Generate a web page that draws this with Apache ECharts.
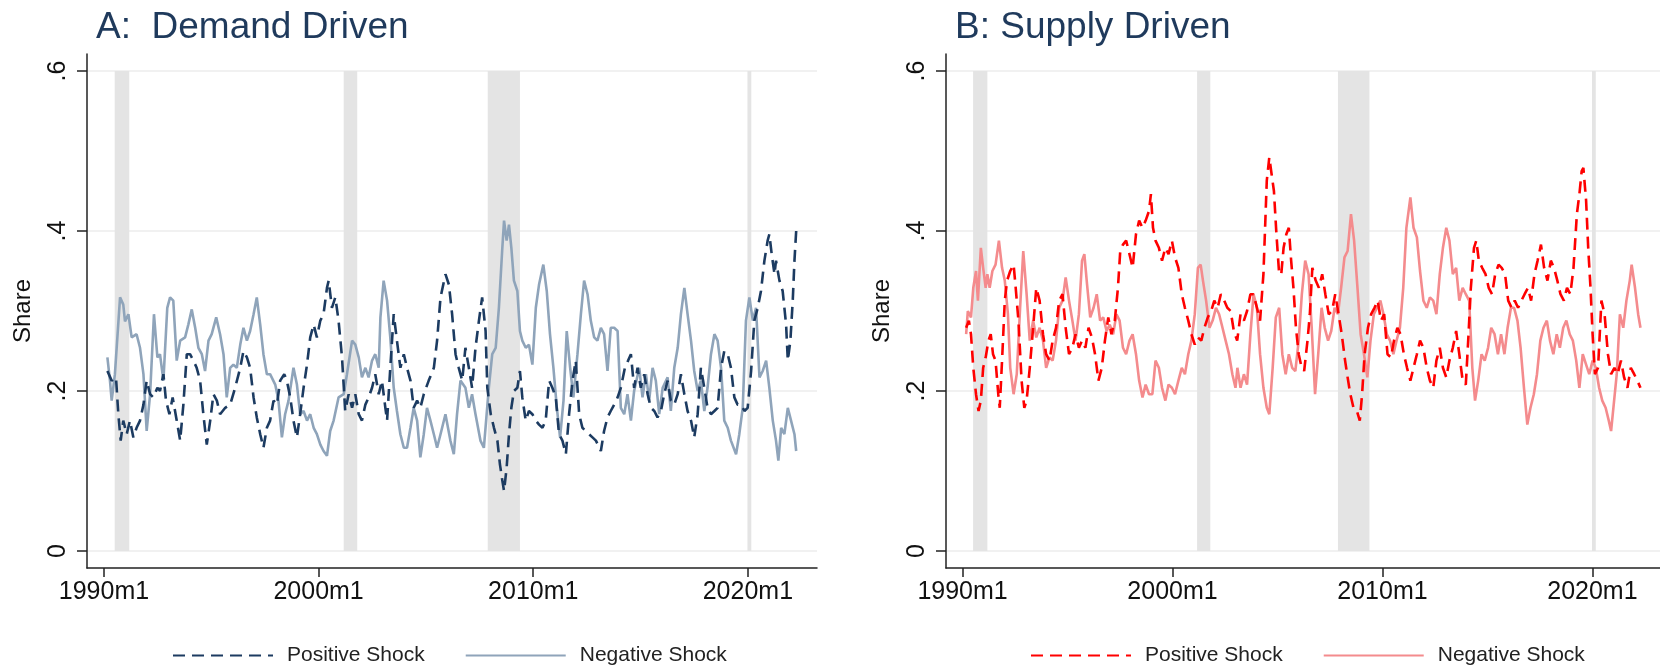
<!DOCTYPE html>
<html>
<head>
<meta charset="utf-8">
<script src="https://cdn.jsdelivr.net/npm/echarts@6/dist/echarts.min.js"></script>
<style>
  html, body { margin: 0; padding: 0; background: #fff; }
  #main { width: 1660px; height: 667px; }
</style>
</head>
<body>
<div id="main"></div>
<script>
// NBER recession spans (decimal years) shaded from 0 to .6
const recessions = [[1990.5, 1991.18], [2001.17, 2001.8], [2007.88, 2009.38], [2019.98, 2020.16]];
const xTicks = [1990, 2000, 2010, 2020];
const yTicks = [0, 0.2, 0.4, 0.6];

// [decimal year, share]
const demandPositive = [
  [1990.16,0.225],[1990.36,0.213],[1990.56,0.217],[1990.67,0.171],[1990.78,0.138],[1990.90,0.163],[1991.06,0.146],[1991.21,0.163],
  [1991.37,0.142],[1991.52,0.154],[1991.68,0.163],[1991.84,0.183],[1991.99,0.213],[1992.15,0.196],[1992.30,0.192],[1992.49,0.204],
  [1992.61,0.200],[1992.77,0.221],[1992.89,0.188],[1993.05,0.171],[1993.20,0.192],[1993.39,0.163],[1993.55,0.138],[1993.70,0.183],
  [1993.86,0.246],[1994.01,0.246],[1994.17,0.238],[1994.32,0.229],[1994.48,0.213],[1994.63,0.171],[1994.79,0.133],[1994.95,0.163],
  [1995.10,0.196],[1995.26,0.188],[1995.41,0.171],[1995.65,0.179],[1995.88,0.183],[1996.11,0.204],[1996.35,0.229],[1996.50,0.250],
  [1996.66,0.242],[1996.81,0.229],[1996.97,0.192],[1997.12,0.167],[1997.28,0.146],[1997.43,0.129],[1997.59,0.154],[1997.74,0.163],
  [1997.90,0.188],[1998.06,0.183],[1998.21,0.213],[1998.40,0.221],[1998.52,0.213],[1998.68,0.192],[1998.83,0.163],[1998.99,0.142],
  [1999.14,0.171],[1999.30,0.204],[1999.46,0.233],[1999.61,0.267],[1999.77,0.283],[1999.92,0.267],[2000.08,0.288],[2000.23,0.296],
  [2000.39,0.329],[2000.47,0.338],[2000.62,0.304],[2000.78,0.317],[2000.93,0.288],[2001.09,0.242],[2001.24,0.175],[2001.40,0.196],
  [2001.56,0.179],[2001.71,0.196],[2001.87,0.171],[2002.02,0.163],[2002.18,0.183],[2002.33,0.192],[2002.49,0.204],[2002.64,0.221],
  [2002.80,0.196],[2002.95,0.213],[2003.11,0.179],[2003.19,0.163],[2003.34,0.229],[2003.50,0.296],[2003.65,0.263],[2003.81,0.229],
  [2003.97,0.246],[2004.12,0.229],[2004.28,0.213],[2004.43,0.179],[2004.59,0.188],[2004.74,0.179],[2004.90,0.196],[2005.13,0.213],
  [2005.37,0.229],[2005.52,0.263],[2005.68,0.317],[2005.91,0.346],[2006.07,0.333],[2006.22,0.296],[2006.38,0.246],[2006.53,0.229],
  [2006.69,0.213],[2006.84,0.254],[2007.00,0.229],[2007.15,0.204],[2007.31,0.254],[2007.47,0.288],[2007.62,0.317],[2007.78,0.275],
  [2007.86,0.204],[2008.02,0.171],[2008.17,0.154],[2008.33,0.138],[2008.45,0.108],[2008.56,0.088],[2008.64,0.075],[2008.76,0.104],
  [2008.87,0.146],[2008.98,0.179],[2009.10,0.200],[2009.26,0.204],[2009.38,0.225],[2009.49,0.192],[2009.65,0.163],[2009.80,0.175],
  [2009.96,0.171],[2010.12,0.163],[2010.27,0.158],[2010.43,0.154],[2010.58,0.163],[2010.74,0.213],[2010.89,0.204],[2011.05,0.192],
  [2011.20,0.146],[2011.36,0.138],[2011.52,0.121],[2011.67,0.171],[2011.83,0.213],[2011.98,0.238],[2012.14,0.171],[2012.29,0.154],
  [2012.45,0.150],[2012.60,0.146],[2012.76,0.142],[2012.92,0.138],[2013.15,0.125],[2013.30,0.150],[2013.46,0.167],[2013.61,0.175],
  [2013.77,0.183],[2013.93,0.192],[2014.08,0.204],[2014.27,0.229],[2014.42,0.238],[2014.55,0.246],[2014.70,0.204],[2014.86,0.229],
  [2015.01,0.204],[2015.17,0.221],[2015.33,0.196],[2015.48,0.179],[2015.64,0.175],[2015.79,0.167],[2015.95,0.175],[2016.10,0.196],
  [2016.26,0.213],[2016.41,0.188],[2016.57,0.183],[2016.73,0.196],[2016.88,0.221],[2017.04,0.196],[2017.19,0.175],[2017.35,0.163],
  [2017.50,0.142],[2017.66,0.171],[2017.81,0.229],[2017.97,0.204],[2018.12,0.179],[2018.28,0.171],[2018.44,0.175],[2018.59,0.179],
  [2018.75,0.229],[2018.90,0.250],[2019.06,0.246],[2019.21,0.229],[2019.37,0.192],[2019.52,0.183],[2019.68,0.183],[2019.84,0.175],
  [2019.99,0.179],[2020.15,0.225],[2020.30,0.288],[2020.46,0.304],[2020.61,0.325],[2020.77,0.363],[2020.92,0.388],[2021.00,0.396],
  [2021.11,0.371],[2021.24,0.346],[2021.31,0.363],[2021.47,0.338],[2021.62,0.325],[2021.78,0.283],[2021.86,0.238],[2021.98,0.263],
  [2022.09,0.313],[2022.17,0.363],[2022.25,0.400]
];

const demandNegative = [
  [1990.16,0.242],[1990.28,0.213],[1990.36,0.188],[1990.51,0.221],[1990.75,0.317],[1990.90,0.308],[1990.98,0.287],[1991.14,0.296],
  [1991.29,0.267],[1991.52,0.271],[1991.68,0.254],[1991.84,0.221],[1991.99,0.150],[1992.15,0.196],[1992.33,0.296],[1992.49,0.242],
  [1992.61,0.246],[1992.77,0.213],[1992.95,0.304],[1993.08,0.317],[1993.23,0.313],[1993.39,0.238],[1993.55,0.263],[1993.78,0.267],
  [1993.93,0.283],[1994.09,0.302],[1994.25,0.279],[1994.40,0.254],[1994.56,0.246],[1994.71,0.225],[1994.87,0.263],[1995.02,0.271],
  [1995.23,0.292],[1995.41,0.271],[1995.57,0.246],[1995.72,0.192],[1995.88,0.229],[1996.03,0.233],[1996.19,0.229],[1996.35,0.258],
  [1996.50,0.279],[1996.66,0.263],[1996.81,0.275],[1996.97,0.296],[1997.12,0.317],[1997.28,0.283],[1997.43,0.246],[1997.59,0.221],
  [1997.74,0.221],[1997.98,0.208],[1998.13,0.188],[1998.29,0.142],[1998.44,0.171],[1998.60,0.188],[1998.83,0.229],[1998.99,0.208],
  [1999.14,0.171],[1999.30,0.175],[1999.46,0.163],[1999.61,0.171],[1999.77,0.154],[1999.92,0.146],[2000.08,0.133],[2000.23,0.125],
  [2000.39,0.119],[2000.54,0.150],[2000.70,0.163],[2000.93,0.192],[2001.17,0.196],[2001.32,0.221],[2001.56,0.263],[2001.71,0.258],
  [2001.87,0.242],[2002.02,0.217],[2002.18,0.229],[2002.33,0.217],[2002.49,0.238],[2002.64,0.246],[2002.80,0.229],[2002.88,0.292],
  [2003.03,0.338],[2003.19,0.313],[2003.34,0.267],[2003.50,0.204],[2003.65,0.175],[2003.81,0.146],[2003.97,0.129],[2004.12,0.129],
  [2004.28,0.154],[2004.43,0.179],[2004.59,0.163],[2004.74,0.117],[2004.90,0.146],[2005.05,0.179],[2005.21,0.163],[2005.37,0.146],
  [2005.52,0.129],[2005.68,0.146],[2005.91,0.171],[2006.14,0.138],[2006.30,0.121],[2006.45,0.171],[2006.61,0.213],[2006.84,0.204],
  [2007.00,0.179],[2007.15,0.196],[2007.31,0.171],[2007.54,0.138],[2007.70,0.129],[2007.93,0.204],[2008.09,0.246],[2008.25,0.254],
  [2008.40,0.304],[2008.56,0.379],[2008.64,0.413],[2008.76,0.388],[2008.87,0.408],[2008.98,0.379],[2009.10,0.338],[2009.26,0.325],
  [2009.38,0.275],[2009.49,0.263],[2009.65,0.254],[2009.80,0.258],[2009.96,0.233],[2010.12,0.304],[2010.27,0.333],[2010.47,0.358],
  [2010.63,0.325],[2010.78,0.271],[2010.94,0.229],[2011.10,0.179],[2011.25,0.142],[2011.41,0.188],[2011.56,0.275],[2011.72,0.229],
  [2011.87,0.192],[2012.06,0.246],[2012.22,0.296],[2012.37,0.338],[2012.53,0.321],[2012.68,0.288],[2012.84,0.267],[2012.99,0.263],
  [2013.15,0.279],[2013.30,0.271],[2013.46,0.225],[2013.61,0.279],[2013.77,0.279],[2013.93,0.275],[2014.08,0.179],[2014.24,0.171],
  [2014.39,0.196],[2014.55,0.163],[2014.70,0.200],[2014.94,0.229],[2015.09,0.192],[2015.25,0.221],[2015.40,0.188],[2015.56,0.229],
  [2015.71,0.213],[2015.87,0.171],[2016.03,0.204],[2016.26,0.217],[2016.41,0.175],[2016.57,0.229],[2016.73,0.254],[2016.88,0.296],
  [2017.04,0.329],[2017.19,0.296],[2017.35,0.263],[2017.50,0.225],[2017.66,0.200],[2017.81,0.213],[2017.97,0.175],[2018.12,0.204],
  [2018.28,0.246],[2018.44,0.271],[2018.59,0.263],[2018.75,0.229],[2018.90,0.163],[2019.06,0.154],[2019.21,0.138],[2019.45,0.121],
  [2019.60,0.146],[2019.76,0.179],[2019.91,0.288],[2020.07,0.317],[2020.23,0.288],[2020.38,0.304],[2020.54,0.217],[2020.69,0.225],
  [2020.85,0.238],[2021.00,0.204],[2021.16,0.163],[2021.31,0.138],[2021.42,0.113],[2021.55,0.154],[2021.70,0.146],[2021.86,0.179],
  [2022.01,0.163],[2022.17,0.146],[2022.25,0.125]
];

const supplyPositive = [
  [1990.17,0.279],[1990.30,0.288],[1990.40,0.271],[1990.51,0.229],[1990.64,0.196],[1990.76,0.175],[1990.87,0.188],[1990.98,0.229],
  [1991.10,0.242],[1991.23,0.263],[1991.34,0.271],[1991.45,0.246],[1991.57,0.238],[1991.70,0.196],[1991.77,0.179],[1991.88,0.238],
  [1992.01,0.313],[1992.12,0.338],[1992.27,0.350],[1992.43,0.358],[1992.53,0.329],[1992.66,0.288],[1992.81,0.213],[1992.94,0.179],
  [1993.05,0.188],[1993.20,0.229],[1993.36,0.279],[1993.51,0.329],[1993.67,0.313],[1993.83,0.271],[1993.98,0.246],[1994.14,0.238],
  [1994.29,0.263],[1994.45,0.279],[1994.60,0.313],[1994.76,0.321],[1994.91,0.279],[1995.07,0.246],[1995.23,0.254],[1995.38,0.271],
  [1995.54,0.254],[1995.69,0.263],[1995.85,0.254],[1996.00,0.279],[1996.16,0.267],[1996.31,0.246],[1996.47,0.213],[1996.63,0.229],
  [1996.78,0.263],[1996.94,0.292],[1997.09,0.271],[1997.25,0.288],[1997.40,0.329],[1997.51,0.375],[1997.64,0.383],[1997.79,0.388],
  [1997.95,0.371],[1998.10,0.354],[1998.26,0.396],[1998.41,0.413],[1998.57,0.404],[1998.72,0.413],[1998.88,0.425],[1998.97,0.446],
  [1999.07,0.404],[1999.19,0.388],[1999.35,0.379],[1999.50,0.363],[1999.66,0.379],[1999.81,0.371],[1999.97,0.388],[2000.12,0.367],
  [2000.28,0.354],[2000.44,0.321],[2000.59,0.304],[2000.75,0.288],[2000.90,0.271],[2001.06,0.258],[2001.21,0.267],[2001.37,0.263],
  [2001.52,0.279],[2001.68,0.292],[2001.84,0.300],[2001.99,0.313],[2002.15,0.304],[2002.30,0.321],[2002.46,0.313],[2002.61,0.304],
  [2002.77,0.300],[2002.92,0.275],[2003.08,0.263],[2003.24,0.296],[2003.40,0.288],[2003.55,0.300],[2003.71,0.321],[2003.86,0.321],
  [2004.02,0.304],[2004.17,0.288],[2004.33,0.346],[2004.49,0.463],[2004.61,0.492],[2004.72,0.471],[2004.83,0.450],[2004.95,0.396],
  [2005.08,0.346],[2005.18,0.346],[2005.29,0.379],[2005.42,0.396],[2005.54,0.404],[2005.65,0.363],[2005.76,0.329],[2005.88,0.279],
  [2006.01,0.246],[2006.12,0.233],[2006.27,0.225],[2006.43,0.263],[2006.54,0.296],[2006.66,0.354],[2006.82,0.338],[2006.97,0.329],
  [2007.13,0.346],[2007.28,0.321],[2007.44,0.296],[2007.60,0.300],[2007.75,0.321],[2007.91,0.296],[2008.06,0.271],[2008.22,0.238],
  [2008.34,0.217],[2008.47,0.196],[2008.62,0.179],[2008.78,0.175],[2008.92,0.163],[2009.03,0.196],[2009.15,0.246],[2009.31,0.279],
  [2009.46,0.296],[2009.62,0.304],[2009.77,0.313],[2009.93,0.288],[2010.08,0.296],[2010.24,0.246],[2010.40,0.242],[2010.55,0.263],
  [2010.71,0.279],[2010.86,0.271],[2011.02,0.246],[2011.17,0.229],[2011.33,0.213],[2011.48,0.229],[2011.64,0.246],[2011.79,0.263],
  [2011.95,0.254],[2012.11,0.229],[2012.26,0.213],[2012.42,0.204],[2012.57,0.238],[2012.73,0.254],[2012.88,0.229],[2013.04,0.217],
  [2013.19,0.238],[2013.35,0.254],[2013.51,0.275],[2013.66,0.246],[2013.82,0.213],[2013.97,0.208],[2014.10,0.271],[2014.21,0.329],
  [2014.36,0.379],[2014.47,0.388],[2014.59,0.363],[2014.75,0.354],[2014.91,0.346],[2015.06,0.329],[2015.22,0.321],[2015.37,0.346],
  [2015.53,0.358],[2015.68,0.354],[2015.84,0.346],[2015.99,0.313],[2016.15,0.304],[2016.30,0.313],[2016.46,0.304],[2016.62,0.313],
  [2016.77,0.321],[2016.93,0.329],[2017.08,0.313],[2017.24,0.346],[2017.39,0.363],[2017.55,0.383],[2017.70,0.354],[2017.86,0.338],
  [2018.02,0.363],[2018.17,0.354],[2018.33,0.338],[2018.48,0.321],[2018.64,0.313],[2018.79,0.329],[2018.95,0.321],[2019.10,0.354],
  [2019.26,0.421],[2019.38,0.446],[2019.49,0.475],[2019.57,0.479],[2019.70,0.438],[2019.80,0.379],[2019.91,0.329],[2020.01,0.271],
  [2020.12,0.221],[2020.27,0.229],[2020.43,0.313],[2020.58,0.296],[2020.74,0.246],[2020.89,0.221],[2021.05,0.229],[2021.20,0.221],
  [2021.36,0.238],[2021.51,0.217],[2021.67,0.204],[2021.83,0.229],[2021.99,0.221],[2022.14,0.213],[2022.29,0.204]
];

const supplyNegative = [
  [1990.17,0.271],[1990.25,0.300],[1990.40,0.292],[1990.51,0.329],[1990.64,0.350],[1990.73,0.313],[1990.87,0.379],[1990.98,0.354],
  [1991.10,0.329],[1991.18,0.346],[1991.29,0.329],[1991.42,0.350],[1991.57,0.358],[1991.73,0.388],[1991.88,0.354],[1992.01,0.338],
  [1992.16,0.296],[1992.27,0.229],[1992.43,0.196],[1992.58,0.221],[1992.74,0.304],[1992.89,0.375],[1993.05,0.321],[1993.20,0.263],
  [1993.36,0.288],[1993.51,0.267],[1993.67,0.279],[1993.83,0.263],[1993.98,0.229],[1994.14,0.242],[1994.29,0.238],[1994.45,0.263],
  [1994.60,0.304],[1994.76,0.313],[1994.91,0.342],[1995.07,0.313],[1995.23,0.288],[1995.38,0.263],[1995.54,0.296],[1995.69,0.363],
  [1995.80,0.371],[1995.93,0.333],[1996.08,0.292],[1996.24,0.304],[1996.39,0.321],[1996.55,0.288],[1996.70,0.292],[1996.86,0.275],
  [1997.01,0.283],[1997.17,0.271],[1997.33,0.296],[1997.48,0.288],[1997.64,0.254],[1997.79,0.246],[1997.95,0.263],[1998.10,0.271],
  [1998.26,0.246],[1998.41,0.213],[1998.57,0.192],[1998.72,0.208],[1998.88,0.196],[1999.04,0.196],[1999.19,0.238],[1999.35,0.229],
  [1999.50,0.204],[1999.66,0.188],[1999.81,0.208],[1999.97,0.204],[2000.12,0.196],[2000.28,0.213],[2000.44,0.229],[2000.59,0.221],
  [2000.75,0.246],[2000.90,0.263],[2001.06,0.296],[2001.21,0.354],[2001.34,0.358],[2001.45,0.338],[2001.60,0.313],[2001.76,0.279],
  [2001.91,0.288],[2002.07,0.304],[2002.22,0.296],[2002.38,0.279],[2002.53,0.263],[2002.69,0.246],[2002.85,0.221],[2003.00,0.204],
  [2003.09,0.229],[2003.24,0.204],[2003.40,0.221],[2003.55,0.208],[2003.71,0.271],[2003.86,0.321],[2004.02,0.304],[2004.17,0.246],
  [2004.33,0.204],[2004.49,0.179],[2004.61,0.171],[2004.77,0.229],[2004.92,0.292],[2005.08,0.304],[2005.23,0.246],[2005.39,0.221],
  [2005.54,0.246],[2005.70,0.229],[2005.85,0.225],[2006.01,0.263],[2006.16,0.321],[2006.32,0.363],[2006.48,0.346],[2006.63,0.279],
  [2006.79,0.196],[2006.94,0.246],[2007.10,0.304],[2007.25,0.279],[2007.41,0.263],[2007.56,0.275],[2007.72,0.304],[2007.88,0.296],
  [2008.03,0.329],[2008.19,0.367],[2008.34,0.375],[2008.50,0.421],[2008.65,0.388],[2008.81,0.329],[2008.96,0.271],[2009.12,0.246],
  [2009.28,0.217],[2009.43,0.263],[2009.59,0.296],[2009.74,0.304],[2009.90,0.313],[2010.05,0.296],[2010.21,0.271],[2010.36,0.263],
  [2010.52,0.246],[2010.67,0.263],[2010.83,0.279],[2010.99,0.329],[2011.14,0.404],[2011.33,0.442],[2011.48,0.404],[2011.64,0.392],
  [2011.79,0.350],[2011.95,0.313],[2012.11,0.304],[2012.26,0.317],[2012.42,0.313],[2012.57,0.296],[2012.73,0.346],[2012.88,0.379],
  [2013.04,0.404],[2013.19,0.388],[2013.35,0.346],[2013.51,0.354],[2013.66,0.313],[2013.82,0.329],[2013.97,0.321],[2014.13,0.313],
  [2014.28,0.229],[2014.41,0.188],[2014.56,0.213],[2014.72,0.246],[2014.87,0.238],[2015.03,0.254],[2015.18,0.279],[2015.34,0.271],
  [2015.50,0.246],[2015.65,0.271],[2015.81,0.246],[2015.96,0.279],[2016.12,0.304],[2016.27,0.304],[2016.43,0.288],[2016.58,0.254],
  [2016.74,0.204],[2016.90,0.158],[2017.05,0.179],[2017.21,0.196],[2017.36,0.221],[2017.52,0.263],[2017.67,0.279],[2017.83,0.288],
  [2017.98,0.263],[2018.14,0.246],[2018.30,0.271],[2018.45,0.254],[2018.61,0.279],[2018.76,0.288],[2018.92,0.271],[2019.07,0.263],
  [2019.23,0.238],[2019.38,0.204],[2019.54,0.246],[2019.70,0.233],[2019.85,0.221],[2020.01,0.238],[2020.16,0.229],[2020.32,0.204],
  [2020.47,0.188],[2020.63,0.179],[2020.78,0.163],[2020.89,0.150],[2021.00,0.179],[2021.16,0.221],[2021.31,0.296],[2021.47,0.279],
  [2021.62,0.313],[2021.78,0.338],[2021.87,0.358],[2022.03,0.329],[2022.18,0.296],[2022.29,0.279]
];

const FONT = '"Liberation Sans", Arial, sans-serif';
const chart = echarts.init(document.getElementById('main'));

const recessionAreas = recessions.map(function (r) {
  return [{ xAxis: r[0], yAxis: 0 }, { xAxis: r[1], yAxis: 0.6 }];
});

function xAxisFor(gridIndex) {
  return {
    type: 'value',
    gridIndex: gridIndex,
    min: 1989.21,
    max: 2023.22,
    axisLine: { onZero: false, lineStyle: { color: '#222', width: 1.5 } },
    axisTick: { length: 9, customValues: xTicks, lineStyle: { color: '#222', width: 1.5 } },
    axisLabel: {
      customValues: xTicks,
      margin: 12,
      fontSize: 25,
      fontFamily: FONT,
      color: '#111',
      formatter: function (v) { return v + 'm1'; }
    },
    splitLine: { show: false }
  };
}

function yAxisFor(gridIndex) {
  return {
    type: 'value',
    gridIndex: gridIndex,
    min: -0.02125,
    max: 0.62125,
    name: 'Share',
    nameLocation: 'middle',
    nameGap: 52,
    nameTextStyle: { fontSize: 24, fontFamily: FONT, color: '#111' },
    axisLine: { show: true, onZero: false, lineStyle: { color: '#222', width: 1.5 } },
    axisTick: { show: true, length: 10, customValues: yTicks, lineStyle: { color: '#222', width: 1.5 } },
    axisLabel: {
      customValues: yTicks,
      rotate: 90,
      margin: 16,
      fontSize: 25,
      fontFamily: FONT,
      color: '#111',
      formatter: function (v) { return v === 0 ? '0' : String(v).replace(/^0/, ''); }
    },
    splitLine: { show: true, lineStyle: { color: '#ececec', width: 1.5 } }
  };
}

function shading(i) {
  return {
    type: 'line', name: 'shade' + i, xAxisIndex: i, yAxisIndex: i, data: [], z: 1,
    markArea: { silent: true, itemStyle: { color: '#e4e4e4' }, data: recessionAreas }
  };
}

function shock(name, i, data, color, dashed) {
  return {
    type: 'line',
    name: name,
    xAxisIndex: i,
    yAxisIndex: i,
    data: data,
    showSymbol: false,
    symbol: 'none',
    z: dashed ? 4 : 3,
    lineStyle: { color: color, width: 2.6, type: dashed ? [12, 7] : 'solid' },
    itemStyle: { color: color }
  };
}

function legendFor(left, names) {
  return {
    left: left,
    top: 640,
    itemWidth: 100,
    itemHeight: 14,
    itemGap: 40,
    data: names,
    itemStyle: { opacity: 0 },
    formatter: function (n) { return n.split('|')[1]; },
    textStyle: { fontSize: 21, fontFamily: FONT, color: '#222', padding: [0, 0, 0, 9] }
  };
}

chart.setOption({
  animation: false,
  backgroundColor: '#fff',
  title: [
    { text: 'A:  Demand Driven', left: 91, top: 4, textStyle: { fontSize: 37, fontWeight: 'normal', fontFamily: FONT, color: '#1f3a5c' } },
    { text: 'B: Supply Driven', left: 950, top: 4, textStyle: { fontSize: 37, fontWeight: 'normal', fontFamily: FONT, color: '#1f3a5c' } }
  ],
  legend: [
    legendFor(167, ['A|Positive Shock', 'A|Negative Shock']),
    legendFor(1025, ['B|Positive Shock', 'B|Negative Shock'])
  ],
  grid: [
    { left: 87, top: 54, width: 730, height: 514 },
    { left: 946, top: 54, width: 730, height: 514 }
  ],
  xAxis: [xAxisFor(0), xAxisFor(1)],
  yAxis: [yAxisFor(0), yAxisFor(1)],
  series: [
    shading(0),
    shading(1),
    shock('A|Negative Shock', 0, demandNegative, '#8fa4ba', false),
    shock('A|Positive Shock', 0, demandPositive, '#1c3b61', true),
    shock('B|Negative Shock', 1, supplyNegative, '#f48b8d', false),
    shock('B|Positive Shock', 1, supplyPositive, '#ff0000', true)
  ]
});
</script>
</body>
</html>
